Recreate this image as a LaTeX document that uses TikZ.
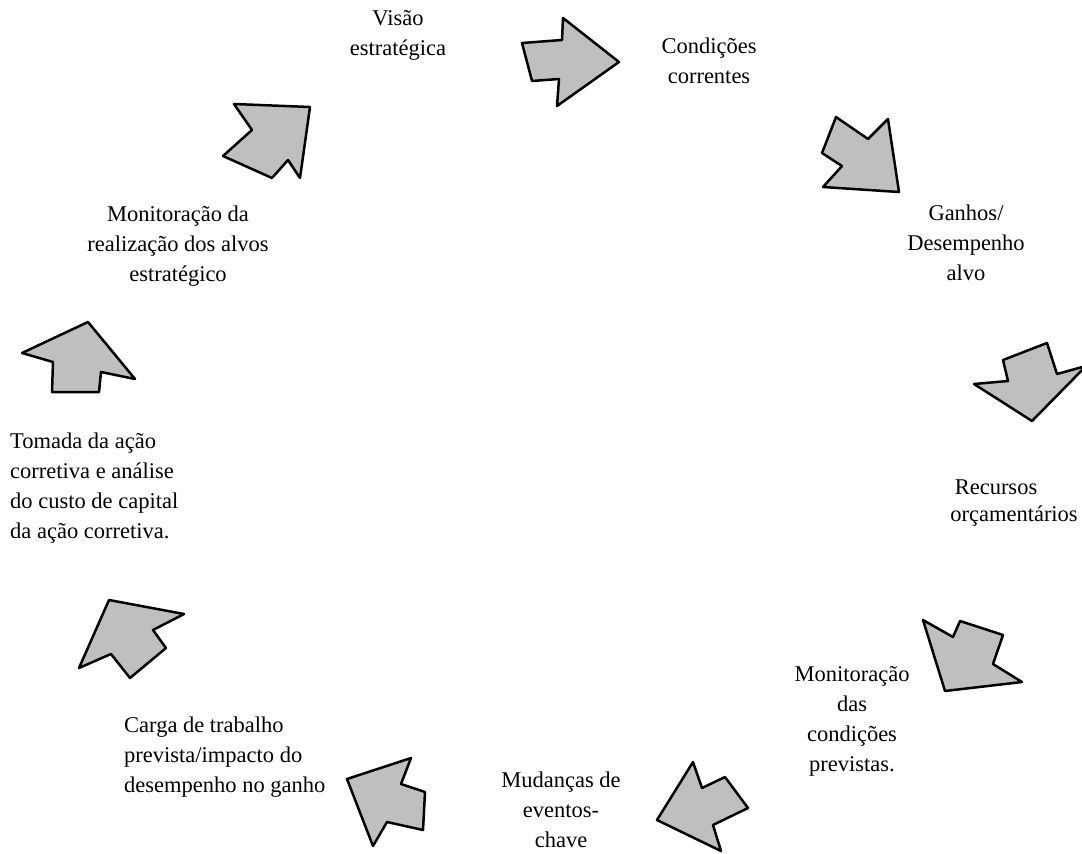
\documentclass[tikz,border=0pt]{standalone}
\usepackage{fontspec}
\setmainfont{Liberation Serif}
\begin{document}
\begin{tikzpicture}[x=1pt,y=-1pt,
  blk/.style={draw=black,line width=2.5pt,line join=round,fill=black!25},
  lbl/.style={align=center,font=\fontsize{22.5}{30}\selectfont,inner sep=0pt},
  lbll/.style={align=left,font=\fontsize{22.5}{30}\selectfont,inner sep=0pt,anchor=west}]
\useasboundingbox (0,0) rectangle (1082,854);
% arrows
\draw[blk] (522,43) -- (562,40) -- (563,18) -- (619,62) -- (557,106) -- (559,79) -- (532,81) -- cycle;
\draw[blk] (836,117) -- (868,139) -- (888,119) -- (899,192) -- (823,187) -- (842,166) -- (822,153) -- cycle;
\draw[blk] (1003,360) -- (1047,343) -- (1057,374) -- (1086,366) -- (1032,421) -- (974,384) -- (1008,381) -- cycle;
\draw[blk] (923,620) -- (953,637) -- (960,621) -- (1003,635) -- (993,664) -- (1022,682) -- (945,691) -- cycle;
\draw[blk] (693,762) -- (702,788) -- (725,777) -- (748,808) -- (713,825) -- (721,851) -- (657,820) -- cycle;
\draw[blk] (411,758) -- (401,784) -- (425,792) -- (423,830) -- (387,822) -- (373,846) -- (347,779) -- cycle;
\draw[blk] (109,600) -- (184,614) -- (153,630) -- (166,648) -- (130,678) -- (111,654) -- (79,668) -- cycle;
\draw[blk] (88,322) -- (135,379) -- (101,372) -- (99,392) -- (52,392) -- (53,362) -- (22,353) -- cycle;
\draw[blk] (234,104) -- (310,107) -- (300,178) -- (288,160) -- (272,178) -- (223,156) -- (252,130) -- cycle;
% labels
\node[lbl] (visao) at (398,35) {Visão\\estratégica};
\node[lbl] (cond) at (709,61) {Condições\\correntes};
\node[lbl] (ganhos) at (966,243) {Ganhos/\\Desempenho\\alvo};
\node[lbl] (rec1) at (996,487) {Recursos};
\node[lbl] (rec2) at (1014,516) {orçamentários};
\node[lbl] (monprev) at (852,721) {Monitoração\\das\\condições\\previstas.};
\node[lbl] (mud) at (561,810) {Mudanças de\\eventos-\\chave};
\node[lbll] (carga) at (124,757) {Carga de trabalho\\prevista/impacto do\\desempenho no ganho};
\node[lbll] (tomada) at (10,488) {Tomada da ação\\corretiva e análise\\do custo de capital\\da ação corretiva.};
\node[lbl] (monalvo) at (178,246) {Monitoração da\\realização dos alvos\\estratégico};
\end{tikzpicture}
\end{document}
